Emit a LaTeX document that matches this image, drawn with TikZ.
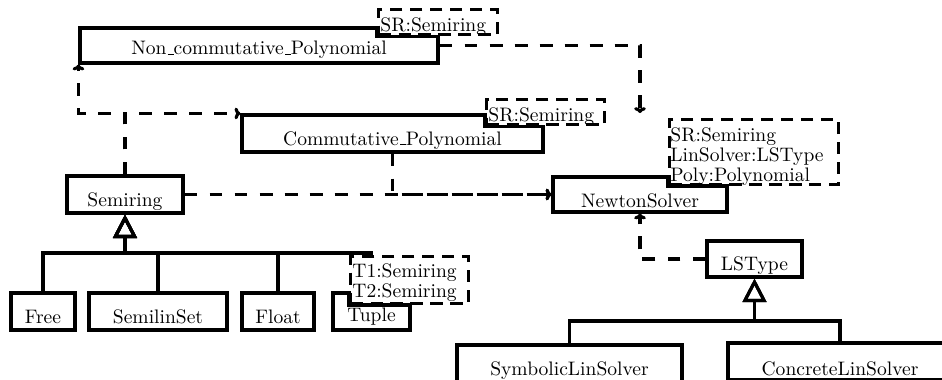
\documentclass[tikz,border=0pt]{standalone}
\usetikzlibrary{arrows.meta}
\newcommand\ubar{\leavevmode\kern.06em\vbox{\hrule width.3em}}
\begin{document}
\begin{tikzpicture}[x=0.5115pt,y=-0.5115pt,
  lw/.style={line width=1.6pt},
  cls/.style={draw, line width=1.6pt, fill=white, inner sep=0pt, text depth=0pt},
  tplbox/.style={draw, line width=1.6pt, dash pattern=on 6.3pt off 3.9pt, fill=white, inner sep=0pt, anchor=north west},
  tpltext/.style={inner sep=0pt, anchor=base west, align=left, font=\fontsize{10}{10}\selectfont},
  dep/.style={line width=1.6pt, dash pattern=on 6.6pt off 6.2pt, -{To[length=3pt,width=6pt]}},
  inh/.style={line width=1.6pt, -{Triangle[open,length=12pt,width=12pt]}}
]
\useasboundingbox (0,0) rectangle (942,379);

% classes
\node[cls, minimum width=183.1pt, minimum height=17.9pt, text height=9.7pt] (nc) at (259,45.5) {Non\ubar commutative\ubar Polynomial};
\node[cls, minimum width=154pt, minimum height=18.9pt, text height=11.8pt] (cp) at (392.5,133.5) {Commutative\ubar Polynomial};
\node[cls, minimum width=59.3pt, minimum height=18.9pt, text height=12.5pt] (sr) at (125,194.5) {Semiring};
\node[cls, minimum width=89pt, minimum height=17.9pt, text height=12.8pt] (ns) at (640,194.5) {NewtonSolver};
\node[cls, minimum width=48.6pt, minimum height=18.4pt, text height=11.3pt] (ls) at (754.5,259) {LSType};
\node[cls, minimum width=32.7pt, minimum height=18.9pt, text height=11.8pt] (free) at (43,311.5) {Free};
\node[cls, minimum width=70.6pt, minimum height=18.9pt, text height=11.8pt] (sls) at (158,311.5) {SemilinSet};
\node[cls, minimum width=36.8pt, minimum height=18.9pt, text height=11.8pt] (flt) at (278,311.5) {Float};
\node[cls, minimum width=39.4pt, minimum height=18.9pt, text height=10.7pt] (tup) at (371.5,311.5) {Tuple};
\node[cls, minimum width=115.1pt, minimum height=18.9pt, text height=11.8pt] (sym) at (569.5,363.5) {SymbolicLinSolver};
\node[cls, minimum width=114.6pt, minimum height=18.9pt, text height=13.8pt] (con) at (840,361.5) {ConcreteLinSolver};

\coordinate (sbar) at (sr.south |- 0,253);
\coordinate (lbar) at (ls.south |- 0,321);
\coordinate (nsin) at (640,113);

% inheritance
\foreach \c in {free,sls,flt,tup} \draw[inh] (\c.north) |- (sbar) -- (sr.south);
\foreach \c in {sym,con} \draw[inh] (\c.north) |- (lbar) -- (ls.south);

% dependencies
\draw[dep] (sr.north) |- (cp.north west);
\draw[dep] (sr.north) -- (sr.north |- cp.north) -| (nc.south west);
\draw[dep] (sr.east) -- (ns.west);
\draw[dep] (cp.south) |- (ns.west);
\draw[dep] (nc.east) -| (nsin);
\draw[dep] (ls.west) -| (ns.south);

% templates
\node[tplbox, minimum width=60.9pt, minimum height=12.8pt] (ncT) at (377,8) {};
\node[tplbox, minimum width=60.4pt, minimum height=12.8pt] (cpT) at (485,98) {};
\node[tplbox, minimum width=86.4pt, minimum height=33.2pt] (nsT) at (668,118) {};
\node[tplbox, minimum width=60.4pt, minimum height=24pt] (tuT) at (349,255) {};
\foreach \c/\t in {nc/ncT, cp/cpT, ns/nsT, tup/tuT}
  \draw[lw] (\t.south west |- \c.north) -- (\t.south west) -- (\c.north east |- \t.south);

\node[tpltext] (ncTt) at (380,31.5) {SR:Semiring};
\node[tpltext] (cpTt) at (488,121.5) {SR:Semiring};
\node[tpltext] (nsTt) at (670,181) {SR:Semiring\\LinSolver:LSType\\Poly:Polynomial};
\node[tpltext] (tuTt) at (352,297.5) {T1:Semiring\\T2:Semiring};
\end{tikzpicture}
\end{document}
